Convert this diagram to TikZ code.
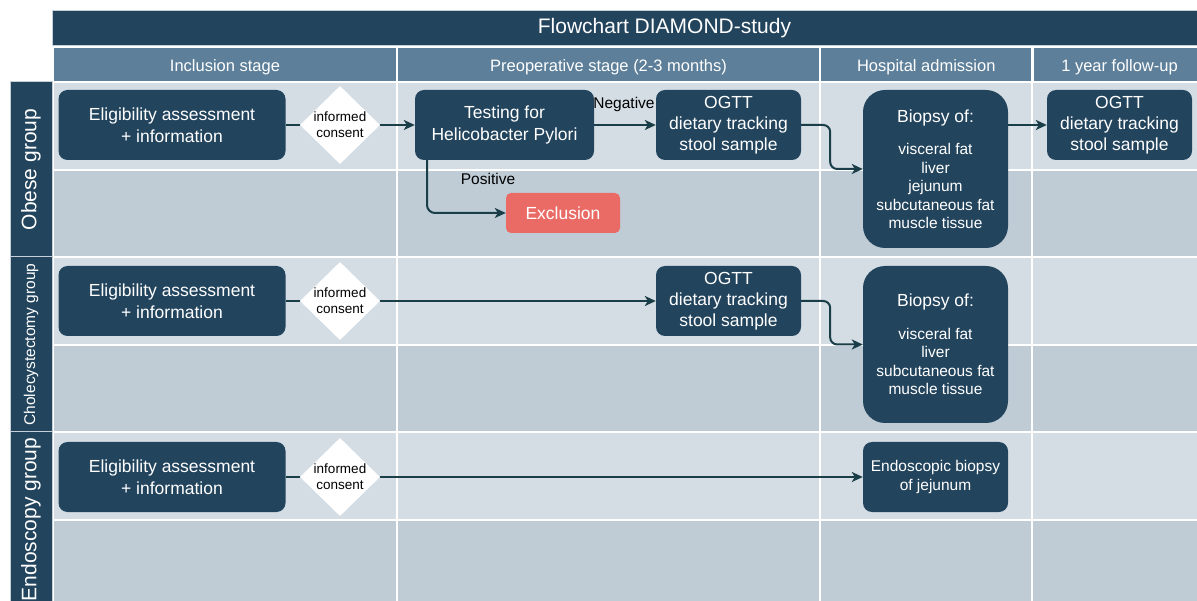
\documentclass[tikz,border=0pt]{standalone}
\usepackage{fontspec}
\setmainfont{Liberation Sans}
\usetikzlibrary{shapes.geometric,arrows.meta}
\definecolor{navy}{HTML}{23445D}
\definecolor{hdr}{HTML}{5D7F99}
\definecolor{cellA}{HTML}{D4DDE4}
\definecolor{cellB}{HTML}{BFCCD6}
\definecolor{conncol}{HTML}{1A3E48}
\definecolor{excl}{HTML}{EA6B66}
\definecolor{rim}{HTML}{C5CFD8}
\begin{document}
\begin{tikzpicture}[x=1pt,y=-1pt,
  titlebar/.style={rectangle, fill=navy, draw=rim, line width=1pt},
  hdrcell/.style={rectangle, fill=hdr, draw=white, line width=1.5pt, text=white, minimum height=35pt, text height=16pt, text depth=1.5pt, font=\fontsize{16.5}{20}\selectfont},
  lanebox/.style={rectangle, fill=navy, draw=rim, line width=1pt, text=white, rotate=90, minimum height=42pt, font=\fontsize{21}{25}\selectfont},
  rowA/.style={fill=cellA, draw=white, line width=2pt},
  rowB/.style={fill=cellB, draw=white, line width=2pt},
  box/.style={rectangle, rounded corners=9pt, fill=navy, text=white, align=center, inner sep=1pt, minimum height=70pt, font=\fontsize{17.5}{21.5}\selectfont},
  ogtt/.style={box, font=\fontsize{17.5}{21}\selectfont, execute at begin node={\rule{0pt}{20pt}}},
  bigbox/.style={box, rounded corners=22pt, font=\fontsize{15.5}{18.5}\selectfont, execute at begin node={\rule{0pt}{15pt}}},
  endobox/.style={box, font=\fontsize{15.5}{19}\selectfont, execute at begin node={\rule{0pt}{15.5pt}}},
  consent/.style={diamond, fill=white, aspect=1.05, inner sep=-2pt, minimum width=80pt, minimum height=78pt, align=center, text=black, font=\fontsize{13.5}{16}\selectfont},
  exclbox/.style={rectangle, rounded corners=5pt, fill=excl, text=white, minimum width=114pt, minimum height=40pt, font=\fontsize{17.5}{21}\selectfont},
  elabel/.style={text=black, inner sep=0pt, font=\fontsize{15.5}{18}\selectfont},
  conn/.style={draw=conncol, line width=2pt},
  arr/.style={conn, -{Stealth[length=11pt,width=10pt,inset=3pt]}}
]
\useasboundingbox (0,0) rectangle (1197,601);
\clip (0,0) rectangle (1197,601);
\fill[white] (0,0) rectangle (1197,601);

% grid cells
\foreach \ya/\ym/\yb in {82/170/257, 257/345/432, 432/520/612} {
  \foreach \xa/\xb in {53/397, 397/820, 820/1031.5, 1031.5/1215} {
    \path[rowA] (\xa,\ya) rectangle (\xb,\ym);
    \path[rowB] (\xa,\ym) rectangle (\xb,\yb);
  }
}

% title and headers
\node[titlebar, minimum width=1200pt, minimum height=35pt, anchor=north west] (title) at (52,10) {};
\node[text=white, font=\fontsize{21}{25}\selectfont] (titletext) at (664.5,28.5) {Flowchart DIAMOND-study};
\node[hdrcell, minimum width=344pt] (h1) at (225,64.5) {Inclusion stage};
\node[hdrcell, minimum width=423pt] (h2) at (608.5,64.5) {Preoperative stage (2-3 months)};
\node[hdrcell, minimum width=211.5pt] (h3) at (926.25,64.5) {Hospital admission};
\node[hdrcell, minimum width=172pt] (h4) at (1119.5,64.5) {1 year follow-up};

% lanes
\node[lanebox, minimum width=175pt] (l1) at (31,169.5) {Obese group};
\node[lanebox, minimum width=175pt, font=\fontsize{15.5}{18}\selectfont] (l2) at (31,344.5) {Cholecystectomy group};
\node[lanebox, minimum width=175pt] (l3) at (31,519.5) {Endoscopy group};

% obese group
\node[box, minimum width=227pt] (e1) at (172,125) {Eligibility assessment\\+ information};
\node[consent] (d1) at (340,125) {informed\\consent};
\node[box, minimum width=179pt] (t1) at (504.5,125) {Testing for\\Helicobacter Pylori};
\node[ogtt, minimum width=145pt] (o1) at (728.5,125) {OGTT\\dietary tracking\\stool sample};
\node[bigbox, minimum width=145pt, minimum height=158pt] (b1) at (935.5,169)
  {{\fontsize{17.5}{21}\selectfont Biopsy of:}\\[14pt]visceral fat\\liver\\jejunum\\subcutaneous fat\\muscle tissue};
\node[ogtt, minimum width=145pt] (o2) at (1119.5,125) {OGTT\\dietary tracking\\stool sample};
\node[exclbox] (x1) at (563,213) {Exclusion};
\node[elabel] (neg) at (624,104) {Negative};
\node[elabel] (pos) at (488,179) {Positive};

% cholecystectomy group
\node[box, minimum width=227pt] (e2) at (172,301) {Eligibility assessment\\+ information};
\node[consent] (d2) at (340,301) {informed\\consent};
\node[ogtt, minimum width=145pt] (o3) at (728.5,301) {OGTT\\dietary tracking\\stool sample};
\node[bigbox, minimum width=145pt, minimum height=157pt] (b2) at (935.5,344.5)
  {{\fontsize{17.5}{21}\selectfont Biopsy of:}\\[14pt]visceral fat\\liver\\subcutaneous fat\\muscle tissue};

% endoscopy group
\node[box, minimum width=227pt] (e3) at (172,477) {Eligibility assessment\\+ information};
\node[consent] (d3) at (340,477) {informed\\consent};
\node[endobox, minimum width=145pt] (en) at (935.5,477) {Endoscopic biopsy\\of jejunum};

% connectors
\draw[conn] (e1) -- (d1);
\draw[arr] (d1) -- (t1);
\draw[arr] (t1) -- (o1);
\draw[arr, rounded corners=8pt] ([xshift=-77.5pt]t1.south) |- (x1.west);
\draw[arr, rounded corners=7pt] (o1.east) -- ++(29,0) |- (b1.west);
\draw[arr] (o2.west -| b1.east) -- (o2.west);

\draw[conn] (e2) -- (d2);
\draw[arr] (d2) -- (o3);
\draw[arr, rounded corners=7pt] (o3.east) -- ++(29,0) |- (b2.west);

\draw[conn] (e3) -- (d3);
\draw[arr] (d3) -- (en);
\end{tikzpicture}
\end{document}
